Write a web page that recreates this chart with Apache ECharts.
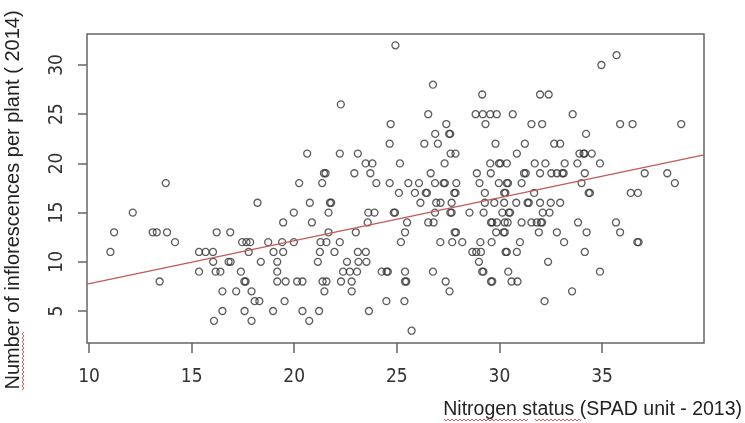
<!DOCTYPE html>
<html>
<head>
<meta charset="utf-8">
<script src="https://cdn.jsdelivr.net/npm/echarts@6/dist/echarts.min.js"></script>
<style>
  html, body { margin: 0; padding: 0; background: #fff; }
  #box { width: 745px; height: 423px; }
</style>
</head>
<body>
<div id="box"></div>
<script>
// [SPAD 2013, inflorescences 2014]
var points = [
  [24.93, 32], [35.71, 31], [34.97, 30], [26.76, 28],
  [29.16, 27], [31.98, 27], [32.4, 27], [22.27, 26],
  [26.53, 25], [28.84, 25], [29.19, 25], [29.55, 25], [29.87, 25], [30.65, 25], [33.57, 25],
  [24.7, 24], [27.41, 24], [29.32, 24], [31.56, 24], [32.08, 24], [35.88, 24], [36.49, 24], [38.86, 24],
  [26.87, 23], [27.55, 23], [27.6, 23], [34.22, 23],
  [24.65, 22], [26.34, 22], [27.0, 22], [29.81, 22], [31.24, 22], [32.67, 22], [32.96, 22],
  [20.63, 21], [22.22, 21], [23.1, 21], [27.62, 21], [27.86, 21], [30.85, 21], [33.9, 21], [34.1, 21], [34.15, 21], [34.5, 21],
  [23.48, 20], [23.81, 20], [25.15, 20], [27.33, 20], [29.55, 20], [29.98, 20], [30.05, 20], [30.36, 20], [31.72, 20],
  [32.24, 20], [33.18, 20], [33.8, 20], [34.9, 20],
  [21.45, 19], [21.53, 19], [22.93, 19], [23.71, 19], [26.65, 19], [28.9, 19], [29.58, 19], [31.2, 19], [31.28, 19],
  [31.98, 19], [32.53, 19], [32.8, 19], [33.07, 19], [33.13, 19], [34.16, 19], [37.08, 19], [38.18, 19],
  [13.74, 18], [20.24, 18], [21.36, 18], [24.0, 18], [24.65, 18], [25.56, 18], [26.08, 18], [26.86, 18], [27.28, 18],
  [27.34, 18], [27.9, 18], [29.03, 18], [29.97, 18], [30.36, 18], [30.42, 18], [31.08, 18], [34.0, 18], [38.55, 18],
  [25.1, 17], [25.88, 17], [26.41, 17], [26.47, 17], [27.8, 17], [27.86, 17], [29.29, 17], [30.23, 17], [30.29, 17],
  [31.69, 17], [34.35, 17], [34.41, 17], [36.4, 17], [36.75, 17],
  [18.21, 16], [20.76, 16], [21.74, 16], [21.8, 16], [26.15, 16], [26.92, 16], [27.13, 16], [27.67, 16], [29.29, 16],
  [29.75, 16], [30.23, 16], [30.82, 16], [31.37, 16], [31.43, 16], [31.98, 16], [32.5, 16], [32.96, 16],
  [12.13, 15], [19.98, 15], [21.67, 15], [23.61, 15], [23.91, 15], [24.85, 15], [24.91, 15], [26.86, 15], [27.61, 15],
  [27.67, 15], [28.54, 15], [29.23, 15], [30.14, 15], [30.46, 15], [30.52, 15], [32.11, 15], [32.44, 15],
  [19.46, 14], [20.86, 14], [23.58, 14], [25.5, 14], [26.53, 14], [26.79, 14], [29.59, 14], [29.65, 14], [29.88, 14],
  [30.26, 14], [30.4, 14], [31.08, 14], [31.56, 14], [31.82, 14], [32.02, 14], [32.08, 14], [33.83, 14], [35.68, 14],
  [11.22, 13], [13.1, 13], [13.3, 13], [13.8, 13], [16.22, 13], [16.88, 13], [21.67, 13], [23.0, 13], [25.4, 13],
  [27.82, 13], [27.88, 13], [29.84, 13], [30.2, 13], [30.26, 13], [31.92, 13], [32.8, 13], [34.25, 13], [35.88, 13],
  [14.19, 12], [17.46, 12], [17.67, 12], [17.85, 12], [18.73, 12], [19.41, 12], [19.98, 12], [21.28, 12], [21.57, 12],
  [22.22, 12], [25.2, 12], [27.12, 12], [27.7, 12], [28.19, 12], [29.07, 12], [29.62, 12], [31.0, 12], [33.15, 12],
  [36.72, 12], [36.78, 12],
  [11.04, 11], [15.36, 11], [15.68, 11], [16.04, 11], [17.78, 11], [18.99, 11], [19.46, 11], [21.25, 11], [21.96, 11],
  [23.1, 11], [23.49, 11], [28.68, 11], [28.87, 11], [29.1, 11], [30.3, 11], [30.36, 11], [30.85, 11], [34.16, 11],
  [16.05, 10], [16.8, 10], [16.9, 10], [18.37, 10], [19.17, 10], [21.15, 10], [22.57, 10], [23.13, 10], [23.52, 10],
  [29.0, 10], [32.37, 10],
  [15.36, 9], [16.17, 9], [16.4, 9], [17.4, 9], [19.17, 9], [22.38, 9], [22.71, 9], [23.06, 9], [24.26, 9],
  [24.5, 9], [24.56, 9], [25.4, 9], [26.76, 9], [29.16, 9], [29.22, 9], [30.43, 9], [34.9, 9],
  [13.44, 8], [17.57, 8], [17.63, 8], [19.17, 8], [19.58, 8], [20.14, 8], [20.4, 8], [21.38, 8], [21.57, 8],
  [22.28, 8], [22.8, 8], [25.4, 8], [25.46, 8], [27.38, 8], [29.59, 8], [29.65, 8], [30.59, 8], [30.88, 8],
  [16.5, 7], [17.17, 7], [17.92, 7], [21.47, 7], [22.8, 7], [27.57, 7], [33.54, 7],
  [18.07, 6], [18.3, 6], [19.53, 6], [24.49, 6], [25.37, 6], [32.2, 6],
  [16.5, 5], [17.58, 5], [18.97, 5], [20.4, 5], [21.21, 5], [23.64, 5],
  [16.09, 4], [17.92, 4], [20.73, 4],
  [25.72, 3]
];

var xTicks = [10, 15, 20, 25, 30, 35];
var yTicks = [5, 10, 15, 20, 25, 30];
var xRange = [9.9, 39.97];
var yRange = [1.75, 33.15];

// fitted line  y = a + b * x
var fitIntercept = 3.41;
var fitSlope = 0.437;
var fitLine = xRange.map(function (x) { return [x, fitIntercept + fitSlope * x]; });

var labelFont = '"Liberation Sans Narrow", "DejaVu Sans Condensed", sans-serif';
var titleFont = '"Liberation Sans", Arial, sans-serif';

// red spell-check squiggle under a word (horizontal or vertical)
function squiggle(x0, y0, len, vertical) {
  var pts = [];
  for (var i = 0; i <= len; i += 2) {
    var off = (i / 2) % 2 === 0 ? 0 : 2;
    pts.push(vertical ? [x0 + off, y0 - i] : [x0 + i, y0 + off]);
  }
  return {
    type: 'polyline',
    shape: { points: pts },
    style: { stroke: '#e04040', lineWidth: 0.9, fill: null },
    silent: true
  };
}

var chart = echarts.init(document.getElementById('box'));
var option = {
  backgroundColor: '#fff',
  animation: false,
  grid: {
    left: 87, right: 41, top: 34, bottom: 80,
    show: true,
    borderColor: '#666',
    borderWidth: 1.5,
    containLabel: false,
    outerBoundsMode: 'none'
  },
  xAxis: {
    type: 'value',
    min: xRange[0],
    max: xRange[1],
    axisLine: { show: false },
    splitLine: { show: false },
    axisTick: {
      show: true, inside: false, length: 10,
      customValues: xTicks,
      lineStyle: { color: '#666', width: 1.5 }
    },
    axisLabel: {
      customValues: xTicks,
      margin: 25,
      color: '#333',
      fontSize: 19,
      fontFamily: labelFont
    }
  },
  yAxis: {
    type: 'value',
    min: yRange[0],
    max: yRange[1],
    axisLine: { show: false },
    splitLine: { show: false },
    axisTick: {
      show: true, inside: false, length: 9,
      customValues: yTicks,
      lineStyle: { color: '#666', width: 1.5 }
    },
    axisLabel: {
      customValues: yTicks,
      rotate: 90,
      margin: 20,
      color: '#333',
      fontSize: 19,
      fontFamily: labelFont
    }
  },
  graphic: [
    {
      type: 'text',
      x: 13, y: 200,
      rotation: Math.PI / 2,
      style: {
        text: 'Number of inflorescences per plant ( 2014)',
        fill: '#222',
        font: '20px ' + titleFont,
        align: 'center',
        verticalAlign: 'middle'
      }
    },
    {
      type: 'text',
      x: 742, y: 410,
      style: {
        text: 'Nitrogen status (SPAD unit - 2013)',
        fill: '#222',
        font: '19.5px ' + titleFont,
        align: 'right',
        verticalAlign: 'middle'
      }
    },
    squiggle(22, 390, 58, true),
    squiggle(444, 419, 84, false),
    squiggle(535, 419, 46, false)
  ],
  series: [
    {
      type: 'scatter',
      data: points,
      symbol: 'circle',
      symbolSize: 7,
      itemStyle: {
        color: 'transparent',
        borderColor: '#333',
        borderWidth: 1.3
      },
      emphasis: { disabled: true }
    },
    {
      type: 'line',
      data: fitLine,
      showSymbol: false,
      silent: true,
      lineStyle: { color: '#c25a5a', width: 1.3 }
    }
  ]
};
chart.setOption(option);
</script>
</body>
</html>
